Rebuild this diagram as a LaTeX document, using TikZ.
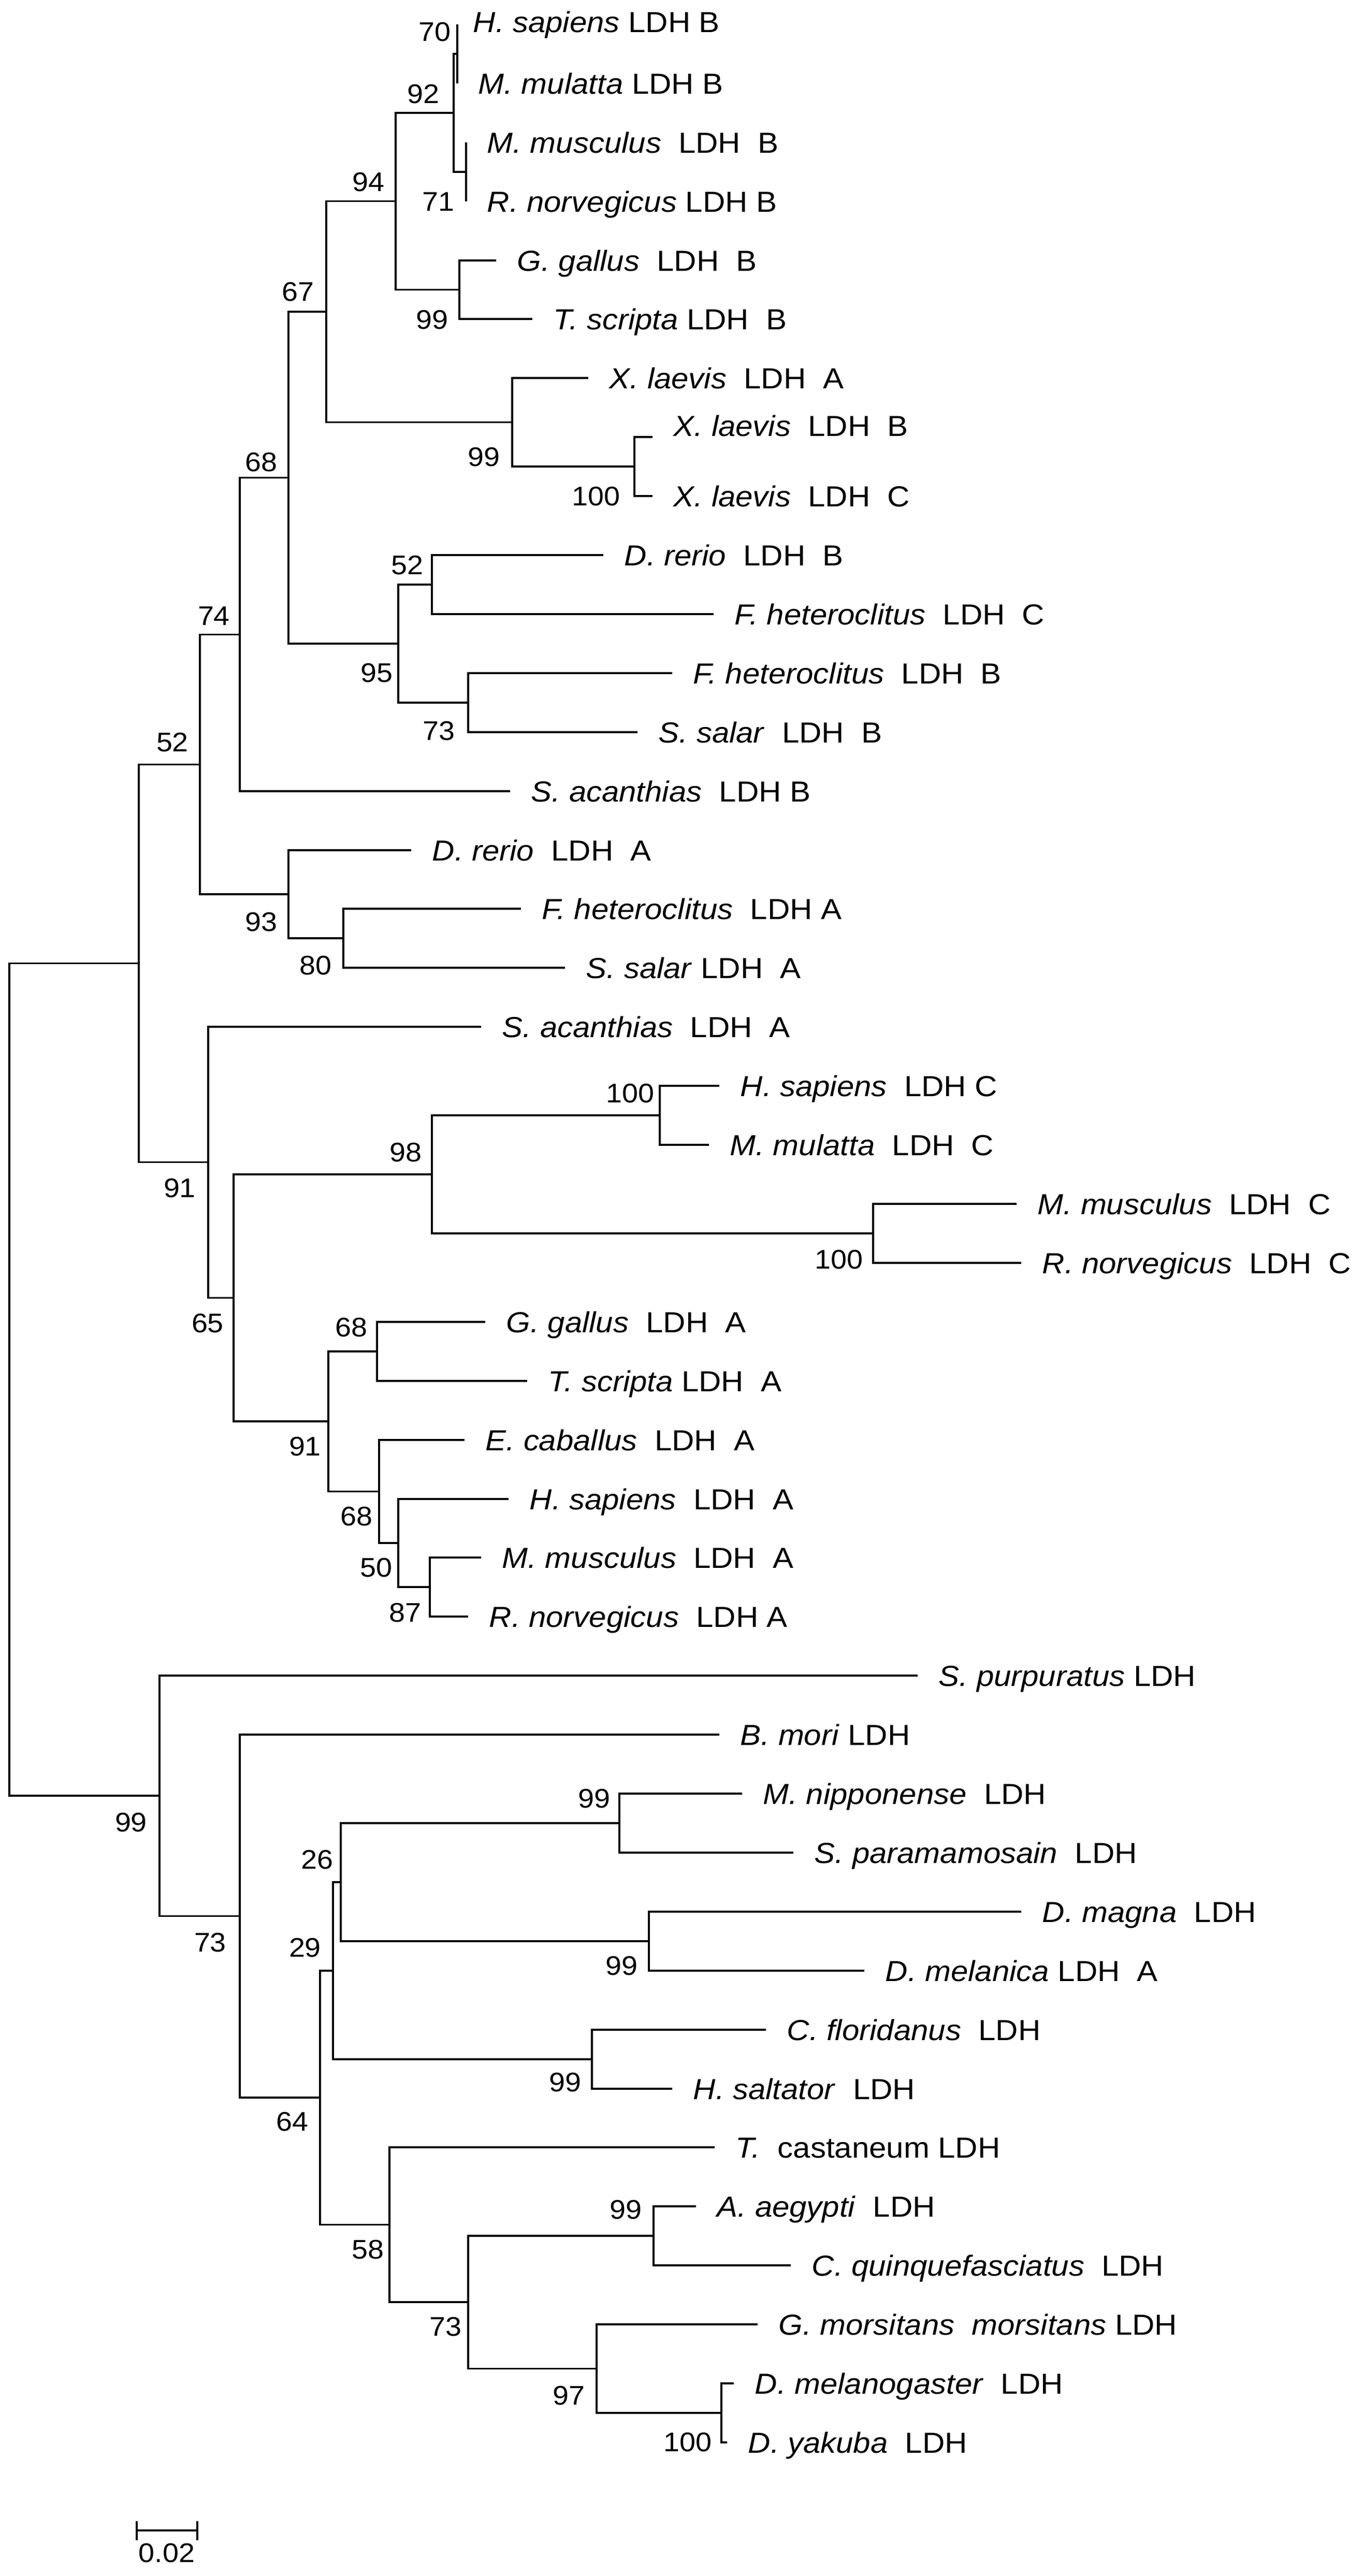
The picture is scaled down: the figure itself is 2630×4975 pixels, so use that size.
\documentclass[tikz,border=0pt]{standalone}
\usepackage{fontspec}
\setmainfont{Liberation Sans}[FakeStretch=1.07]
\begin{document}
\begin{tikzpicture}[x=0.25pt,y=-0.25pt,
  br/.style={line width=0.85pt, line join=miter},
  taxon/.style={anchor=base west, inner sep=0pt, xshift=10pt, yshift=-5.2pt, font=\fontsize{14pt}{16pt}\selectfont},
  boot/.style={anchor=center, inner sep=0pt, font=\fontsize{13pt}{15pt}\selectfont}]
\fill[white] (0,0) rectangle (2630,4975);
\useasboundingbox (0,0) rectangle (2630,4975);
% leaves
\coordinate (L0) at (883,47);
\coordinate (L1) at (883,161);
\coordinate (L2) at (900,275);
\coordinate (L3) at (900,389);
\coordinate (L4) at (958,503);
\coordinate (L5) at (1028,616);
\coordinate (L6) at (1136,730);
\coordinate (L7) at (1260,844);
\coordinate (L8) at (1260,958);
\coordinate (L9) at (1165,1072);
\coordinate (L10) at (1378,1186);
\coordinate (L11) at (1298,1300);
\coordinate (L12) at (1231,1414);
\coordinate (L13) at (985,1528);
\coordinate (L14) at (794,1642);
\coordinate (L15) at (1006,1755);
\coordinate (L16) at (1091,1869);
\coordinate (L17) at (929,1983);
\coordinate (L18) at (1389,2097);
\coordinate (L19) at (1369,2211);
\coordinate (L20) at (1963,2325);
\coordinate (L21) at (1972,2439);
\coordinate (L22) at (937,2553);
\coordinate (L23) at (1018,2667);
\coordinate (L24) at (897,2781);
\coordinate (L25) at (982,2895);
\coordinate (L26) at (929,3008);
\coordinate (L27) at (904,3122);
\coordinate (L28) at (1772,3236);
\coordinate (L29) at (1389,3350);
\coordinate (L30) at (1433,3464);
\coordinate (L31) at (1532,3578);
\coordinate (L32) at (1972,3692);
\coordinate (L33) at (1669,3806);
\coordinate (L34) at (1479,3920);
\coordinate (L35) at (1298,4034);
\coordinate (L36) at (1380,4147);
\coordinate (L37) at (1344,4261);
\coordinate (L38) at (1527,4375);
\coordinate (L39) at (1463,4489);
\coordinate (L40) at (1417,4603);
\coordinate (L41) at (1404,4717);
% internal nodes
\coordinate (n70) at (883,104);
\coordinate (n71) at (900,332);
\coordinate (n92) at (876,218);
\coordinate (nGT) at (887,559.5);
\coordinate (n94) at (764,388.75);
\coordinate (nX100) at (1225,901);
\coordinate (nX99) at (989,815.5);
\coordinate (n67) at (630,602.1);
\coordinate (n52a) at (834,1129);
\coordinate (n73a) at (904,1357);
\coordinate (n95) at (769,1243);
\coordinate (n68) at (557,922.6);
\coordinate (n74) at (463,1225.3);
\coordinate (n80) at (663,1812);
\coordinate (n93) at (557,1727);
\coordinate (n52b) at (386,1476.2);
\coordinate (nC100) at (1274,2154);
\coordinate (nC100b) at (1686,2382);
\coordinate (n98) at (834,2268);
\coordinate (n68b) at (728,2610);
\coordinate (n87) at (830,3065);
\coordinate (n50) at (769,2980);
\coordinate (n68c) at (732,2880.5);
\coordinate (n91b) at (634,2745);
\coordinate (n65) at (451,2506.5);
\coordinate (n91) at (402,2244.75);
\coordinate (nV) at (268,1860.5);
\coordinate (nMS99) at (1196,3521);
\coordinate (nDD99) at (1253,3749);
\coordinate (n26) at (658,3635);
\coordinate (nCH99) at (1143,3977);
\coordinate (n29) at (643,3806);
\coordinate (nAC99) at (1262,4318);
\coordinate (nDD100) at (1393,4660);
\coordinate (n97) at (1152,4574.5);
\coordinate (n73c) at (904,4446);
\coordinate (n58) at (752,4296.6);
\coordinate (n64) at (618,4051);
\coordinate (n73b) at (463,3700.5);
\coordinate (n99r) at (308,3468);
\coordinate (root) at (18,2664.25);
% branches
\foreach \p/\c in {root/nV, root/n99r, nV/n52b, nV/n91, n52b/n74, n52b/n93,
  n74/n68, n74/L13, n68/n67, n68/n95, n67/n94, n67/nX99, n94/n92, n94/nGT,
  n92/n70, n92/n71, n70/L0, n70/L1, n71/L2, n71/L3, nGT/L4, nGT/L5,
  nX99/L6, nX99/nX100, nX100/L7, nX100/L8, n95/n52a, n95/n73a,
  n52a/L9, n52a/L10, n73a/L11, n73a/L12, n93/L14, n93/n80, n80/L15, n80/L16,
  n91/L17, n91/n65, n65/n98, n65/n91b, n98/nC100, n98/nC100b,
  nC100/L18, nC100/L19, nC100b/L20, nC100b/L21, n91b/n68b, n91b/n68c,
  n68b/L22, n68b/L23, n68c/L24, n68c/n50, n50/L25, n50/n87, n87/L26, n87/L27,
  n99r/L28, n99r/n73b, n73b/L29, n73b/n64, n64/n29, n64/n58, n29/n26, n29/nCH99,
  n26/nMS99, n26/nDD99, nMS99/L30, nMS99/L31, nDD99/L32, nDD99/L33,
  nCH99/L34, nCH99/L35, n58/L36, n58/n73c, n73c/nAC99, n73c/n97,
  nAC99/L37, nAC99/L38, n97/L39, n97/nDD100, nDD100/L40, nDD100/L41}
  \draw[br] (\p) |- (\c);
% taxon labels
\node[taxon, xshift=-2.5pt, yshift=1.3pt] (t0) at (L0) {\textit{H. sapiens} LDH B};
\node[taxon] (t1) at (L1) {\textit{M. mulatta} LDH B};
\node[taxon] (t2) at (L2) {\textit{M. musculus}~~LDH~~B};
\node[taxon] (t3) at (L3) {\textit{R. norvegicus} LDH B};
\node[taxon] (t4) at (L4) {\textit{G. gallus}~~LDH~~B};
\node[taxon] (t5) at (L5) {\textit{T. scripta} LDH~~B};
\node[taxon] (t6) at (L6) {\textit{X. laevis}~~LDH~~A};
\node[taxon, yshift=5.5pt] (t7) at (L7) {\textit{X. laevis}~~LDH~~B};
\node[taxon] (t8) at (L8) {\textit{X. laevis}~~LDH~~C};
\node[taxon] (t9) at (L9) {\textit{D. rerio}~~LDH~~B};
\node[taxon] (t10) at (L10) {\textit{F. heteroclitus}~~LDH~~C};
\node[taxon] (t11) at (L11) {\textit{F. heteroclitus}~~LDH~~B};
\node[taxon] (t12) at (L12) {\textit{S. salar}~~LDH~~B};
\node[taxon] (t13) at (L13) {\textit{S. acanthias}~~LDH B};
\node[taxon] (t14) at (L14) {\textit{D. rerio}~~LDH~~A};
\node[taxon] (t15) at (L15) {\textit{F. heteroclitus}~~LDH A};
\node[taxon] (t16) at (L16) {\textit{S. salar} LDH~~A};
\node[taxon] (t17) at (L17) {\textit{S. acanthias}~~LDH~~A};
\node[taxon] (t18) at (L18) {\textit{H. sapiens}~~LDH C};
\node[taxon] (t19) at (L19) {\textit{M. mulatta}~~LDH~~C};
\node[taxon] (t20) at (L20) {\textit{M. musculus}~~LDH~~C};
\node[taxon] (t21) at (L21) {\textit{R. norvegicus}~~LDH~~C};
\node[taxon] (t22) at (L22) {\textit{G. gallus}~~LDH~~A};
\node[taxon] (t23) at (L23) {\textit{T. scripta} LDH~~A};
\node[taxon] (t24) at (L24) {\textit{E. caballus}~~LDH~~A};
\node[taxon] (t25) at (L25) {\textit{H. sapiens}~~LDH~~A};
\node[taxon] (t26) at (L26) {\textit{M. musculus}~~LDH~~A};
\node[taxon] (t27) at (L27) {\textit{R. norvegicus}~~LDH A};
\node[taxon] (t28) at (L28) {\textit{S. purpuratus} LDH};
\node[taxon] (t29) at (L29) {\textit{B. mori} LDH};
\node[taxon] (t30) at (L30) {\textit{M. nipponense}~~LDH};
\node[taxon] (t31) at (L31) {\textit{S. paramamosain}~~LDH};
\node[taxon] (t32) at (L32) {\textit{D. magna}~~LDH};
\node[taxon] (t33) at (L33) {\textit{D. melanica} LDH~~A};
\node[taxon] (t34) at (L34) {\textit{C. floridanus}~~LDH};
\node[taxon] (t35) at (L35) {\textit{H. saltator}~~LDH};
\node[taxon] (t36) at (L36) {\textit{T.}~~castaneum LDH};
\node[taxon] (t37) at (L37) {\textit{A. aegypti}~~LDH};
\node[taxon] (t38) at (L38) {\textit{C. quinquefasciatus}~~LDH};
\node[taxon] (t39) at (L39) {\textit{G. morsitans}~~\textit{morsitans} LDH};
\node[taxon] (t40) at (L40) {\textit{D. melanogaster}~~LDH};
\node[taxon] (t41) at (L41) {\textit{D. yakuba}~~LDH};
% bootstrap values
\node[boot] (b70) at (839,62) {70};
\node[boot] (b92) at (817,182) {92};
\node[boot] (b94) at (711,352) {94};
\node[boot] (b71) at (846,390) {71};
\node[boot] (b99a) at (834,618) {99};
\node[boot] (b67) at (575,564) {67};
\node[boot] (b99b) at (934,883) {99};
\node[boot] (b100a) at (1151,959) {100};
\node[boot] (b68a) at (504,893) {68};
\node[boot] (b52a) at (786,1092) {52};
\node[boot] (b74) at (413,1190) {74};
\node[boot] (b95) at (727,1300) {95};
\node[boot] (b73a) at (847,1412) {73};
\node[boot] (b52b) at (333,1434) {52};
\node[boot] (b93) at (504,1781) {93};
\node[boot] (b80) at (609,1865) {80};
\node[boot] (b100b) at (1217,2112) {100};
\node[boot] (b98) at (783,2226) {98};
\node[boot] (b91a) at (347,2295) {91};
\node[boot] (b100d) at (1620,2433) {100};
\node[boot] (b65) at (401,2556) {65};
\node[boot] (b68b) at (678,2564) {68};
\node[boot] (b91b) at (589,2794) {91};
\node[boot] (b68c) at (688,2929) {68};
\node[boot] (b50) at (726,3028) {50};
\node[boot] (b87) at (782,3115) {87};
\node[boot] (b99c) at (253,3520) {99};
\node[boot] (b99d) at (1147,3474) {99};
\node[boot] (b26) at (612,3592) {26};
\node[boot] (b73b) at (406,3752) {73};
\node[boot] (b29) at (589,3762) {29};
\node[boot] (b99e) at (1200,3797) {99};
\node[boot] (b99f) at (1091,4022) {99};
\node[boot] (b64) at (564,4098) {64};
\node[boot] (b99g) at (1208,4268) {99};
\node[boot] (b58) at (710,4345) {58};
\node[boot] (b73c) at (860,4494) {73};
\node[boot] (b97) at (1098,4627) {97};
\node[boot] (b100c) at (1328,4717) {100};
% scale bar
\coordinate (sbl) at (264,4887);
\coordinate (sbr) at (381,4887);
\draw[br] (sbl) -- (sbr);
\draw[br] ([yshift=4.5pt]sbl) -- ([yshift=-4.75pt]sbl);
\draw[br] ([yshift=4.5pt]sbr) -- ([yshift=-4.75pt]sbr);
\node[boot] (sblab) at (322,4931) {0.02};
\end{tikzpicture}
\end{document}
